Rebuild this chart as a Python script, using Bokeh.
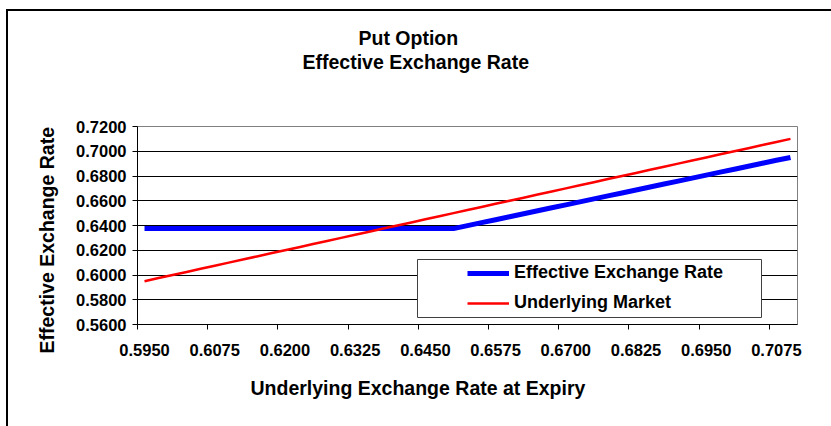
from bokeh.plotting import figure
from bokeh.models import (Range1d, FixedTicker, NumeralTickFormatter, Legend, LegendItem,
                          Title, BoxAnnotation)
from bokeh.embed import file_html
from bokeh.resources import INLINE

# ---------------- data ----------------
underlying_rate = [0.5950, 0.5975, 0.6000, 0.6025, 0.6050, 0.6075, 0.6100, 0.6125, 0.6150, 0.6175,
                   0.6200, 0.6225, 0.6250, 0.6275, 0.6300, 0.6325, 0.6350, 0.6375, 0.6400, 0.6425,
                   0.6450, 0.6475, 0.6500, 0.6525, 0.6550, 0.6575, 0.6600, 0.6625, 0.6650, 0.6675,
                   0.6700, 0.6725, 0.6750, 0.6775, 0.6800, 0.6825, 0.6850, 0.6875, 0.6900, 0.6925,
                   0.6950, 0.6975, 0.7000, 0.7025, 0.7050, 0.7075, 0.7100]
effective_rate = [0.6375, 0.6375, 0.6375, 0.6375, 0.6375, 0.6375, 0.6375, 0.6375, 0.6375, 0.6375,
                  0.6375, 0.6375, 0.6375, 0.6375, 0.6375, 0.6375, 0.6375, 0.6375, 0.6375, 0.6375,
                  0.6375, 0.6375, 0.6375, 0.6399, 0.6423, 0.6447, 0.6471, 0.6495, 0.6519, 0.6543,
                  0.6567, 0.6591, 0.6615, 0.6639, 0.6663, 0.6687, 0.6711, 0.6735, 0.6759, 0.6783,
                  0.6807, 0.6831, 0.6855, 0.6879, 0.6903, 0.6927, 0.6950]
underlying_market = [0.5950, 0.5975, 0.6000, 0.6025, 0.6050, 0.6075, 0.6100, 0.6125, 0.6150, 0.6175,
                     0.6200, 0.6225, 0.6250, 0.6275, 0.6300, 0.6325, 0.6350, 0.6375, 0.6400, 0.6425,
                     0.6450, 0.6475, 0.6500, 0.6525, 0.6550, 0.6575, 0.6600, 0.6625, 0.6650, 0.6675,
                     0.6700, 0.6725, 0.6750, 0.6775, 0.6800, 0.6825, 0.6850, 0.6875, 0.6900, 0.6925,
                     0.6950, 0.6975, 0.7000, 0.7025, 0.7050, 0.7075, 0.7100]
x_tick_labels = ["0.5950", "0.6075", "0.6200", "0.6325", "0.6450",
                 "0.6575", "0.6700", "0.6825", "0.6950", "0.7075"]
y_ticks = [0.56, 0.58, 0.60, 0.62, 0.64, 0.66, 0.68, 0.70, 0.72]
series_names = ["Effective Exchange Rate", "Underlying Market"]
title_lines = ["Put Option", "Effective Exchange Rate"]
x_title = "Underlying Exchange Rate at Expiry"
y_title = "Effective Exchange Rate"

# ---------------- layout ----------------
FONT = "Liberation Sans"
step = underlying_rate[1] - underlying_rate[0]
half = step / 2.0
x0, x1 = underlying_rate[0] - half, underlying_rate[-1] + half
y0, y1 = y_ticks[0], y_ticks[-1]

OX, OY = 8, 11                         # figure origin on the page
PL, PT, FW, FH = 137, 126, 660, 198    # frame position on the page
W, H = 831 - OX, 426 - OY
FL, FT = PL - OX, PT - OY

p = figure(width=W, height=H, x_range=Range1d(x0, x1), y_range=Range1d(y0, y1),
           output_backend="svg", toolbar_location=None,
           min_border_left=FL, min_border_top=FT,
           min_border_right=W - FL - FW, min_border_bottom=H - FT - FH)
p.margin = (OY, 0, 0, OX)
p.styles = {"outline": "2px solid black"}
p.background_fill_color = "white"
p.border_fill_color = "white"
p.outline_line_color = "#808080"
p.outline_line_width = 1
p.title.text = ""

def make_title(txt, standoff, offset):
    return Title(text=txt, align="left", offset=offset, standoff=standoff,
                 text_font=FONT, text_font_size="19.5px", text_font_style="bold",
                 text_color="black")

# above: first added sits closest to the frame
p.add_layout(make_title(" ", 30, 0), "above")
p.add_layout(make_title(title_lines[1], 0, 165), "above")
p.add_layout(make_title(title_lines[0], 0, 221), "above")

# category style x axis: labels at category centres, ticks at category boundaries
label_pos = underlying_rate[::5]
bound_pos = [v - half for v in underlying_rate[::5]]
xax = p.xaxis[0]
xax.ticker = FixedTicker(ticks=label_pos, minor_ticks=bound_pos)
xax.major_label_overrides = {v: s for v, s in zip(label_pos, x_tick_labels)}
xax.major_tick_line_color = None
xax.major_tick_out = 0
xax.major_tick_in = 0
xax.minor_tick_line_color = "black"
xax.minor_tick_out = 5
xax.minor_tick_in = 0
xax.major_label_standoff = 14
xax.major_label_text_font = FONT
xax.major_label_text_font_size = "16.5px"
xax.major_label_text_font_style = "bold"
xax.major_label_text_color = "black"
xax.axis_line_color = "black"

yax = p.yaxis[0]
yax.ticker = FixedTicker(ticks=y_ticks)
yax.formatter = NumeralTickFormatter(format="0.0000")
yax.major_tick_out = 5
yax.major_tick_in = 0
yax.minor_tick_line_color = None
yax.major_label_standoff = 6
yax.major_label_text_font = FONT
yax.major_label_text_font_size = "16.5px"
yax.major_label_text_font_style = "bold"
yax.major_label_text_color = "black"
yax.axis_line_color = "black"

p.xgrid.visible = False
p.ygrid.grid_line_color = "black"
p.ygrid.grid_line_width = 1

p.add_layout(make_title(x_title, 32, 113), "below")
p.add_layout(make_title(y_title, 32, -29), "left")

# lines
r_eff = p.line(underlying_rate, effective_rate, line_color="#0000FF", line_width=5)
r_und = p.line(underlying_rate, underlying_market, line_color="#FF0000", line_width=2.5)

# page pixel -> data helpers (for placing the legend box)
def dx(px):
    return x0 + (px - PL) / FW * (x1 - x0)

def dy(py):
    return y1 - (py - PT) / FH * (y1 - y0)

box = BoxAnnotation(left=dx(417), right=dx(761), top=dy(259), bottom=dy(317),
                    fill_color="white", fill_alpha=1.0, line_color="#404040", line_width=1,
                    line_alpha=1.0)
p.add_layout(box)

legend = Legend(items=[LegendItem(label=series_names[0], renderers=[r_eff]),
                       LegendItem(label=series_names[1], renderers=[r_und])],
                location=(330, 11), padding=0, margin=0, spacing=9,
                glyph_width=42, label_standoff=5,
                label_text_font=FONT, label_text_font_size="18px", label_text_font_style="bold",
                label_text_color="black",
                border_line_color=None, background_fill_alpha=0)
p.add_layout(legend, "center")

open("out.html", "w").write(file_html(p, INLINE))
